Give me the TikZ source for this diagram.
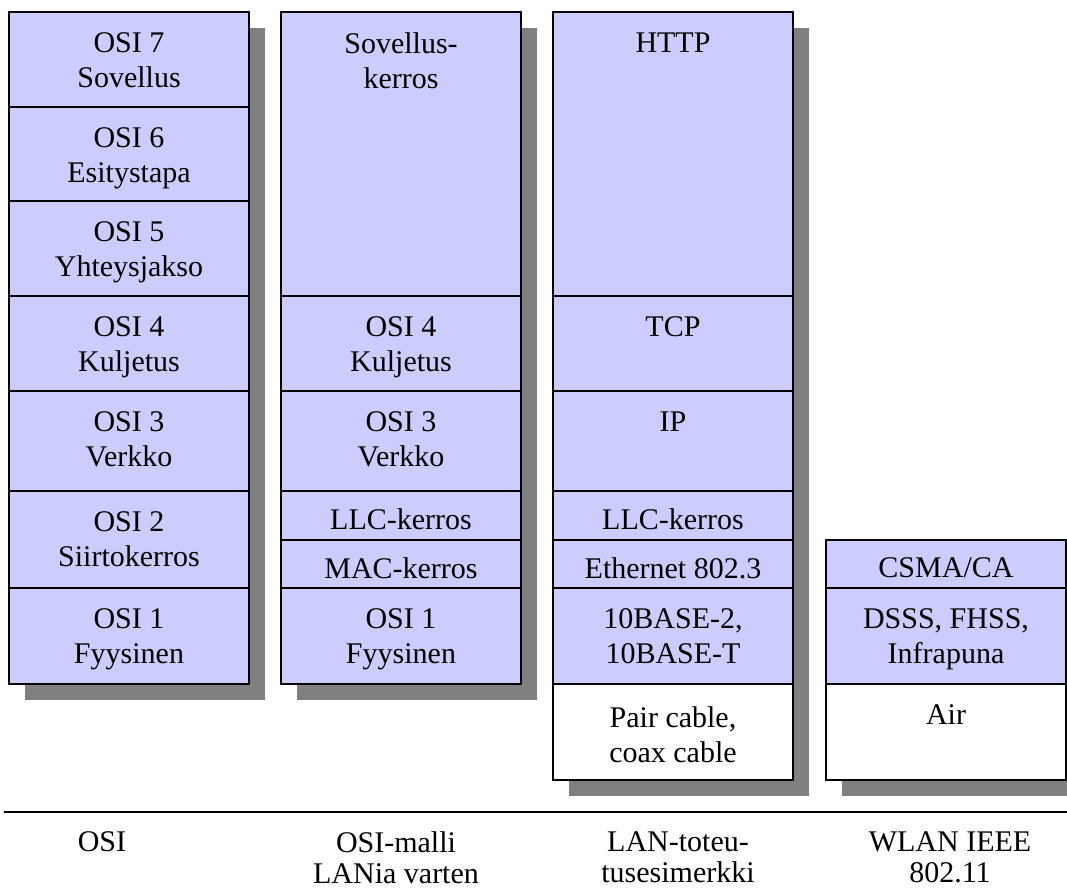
\documentclass[tikz,border=0pt]{standalone}
\usepackage{fontspec}
\setmainfont{Liberation Serif}
\usetikzlibrary{positioning,backgrounds}

\definecolor{layerblue}{HTML}{CCCCFF}
\definecolor{shadowgray}{HTML}{808080}

\tikzset{
  layer/.style={draw=black, line width=1.3pt, fill=layerblue, anchor=north west,
    inner sep=0pt, outer sep=0pt, minimum width=180pt},
  medium/.style={layer, fill=white},
  layertext/.style={anchor=north, inner sep=0pt, align=center,
    font=\fontsize{22.5}{26.25}\selectfont},
  caption/.style={anchor=north, inner sep=0pt, align=center,
    font=\fontsize{22.5}{23.25}\selectfont},
  dropshadow/.style={fill=shadowgray},
  rule/.style={line width=1.5pt}
}

\begin{document}
\begin{tikzpicture}[x=0.75pt, y=-0.75pt]
    \useasboundingbox (0,0) rectangle (1067,889);

    % OSI model
    \foreach \nm/\ya/\yb/\dy/\kind/\txt in {osi7/12/107/20.7/layer/{OSI 7\\Sovellus},
        osi6/107/201/20.7/layer/{OSI 6\\Esitystapa}, osi5/201/296/20.7/layer/{OSI 5\\Yhteysjakso},
        osi4/296/391/20.7/layer/{OSI 4\\Kuljetus}, osi3/391/491/20.7/layer/{OSI 3\\Verkko},
        osi2/491/588/20.7/layer/{OSI 2\\Siirtokerros}, osi1/588/684/20.7/layer/{OSI 1\\Fyysinen}}{
        \node (\nm) [\kind, minimum height={(\yb-\ya)*0.75pt}] at (9,\ya) {};
        \node (\nm-txt) [layertext] at ([shift={(0,\dy)}]\nm.north) {\txt};
    }

    % OSI model for LAN
    \foreach \nm/\ya/\yb/\dy/\kind/\txt in {lanapp/12/296/20.7/layer/{Sovellus-\\kerros},
        lan4/296/391/20.7/layer/{OSI 4\\Kuljetus}, lan3/391/491/20.7/layer/{OSI 3\\Verkko},
        llc/491/540/17.7/layer/{LLC-kerros}, mac/540/588/17.7/layer/{MAC-kerros},
        lan1/588/684/20.7/layer/{OSI 1\\Fyysinen}}{
        \node (\nm) [\kind, minimum height={(\yb-\ya)*0.75pt}] at (281,\ya) {};
        \node (\nm-txt) [layertext] at ([shift={(0,\dy)}]\nm.north) {\txt};
    }

    % LAN example
    \foreach \nm/\ya/\yb/\dy/\kind/\txt in {http/12/296/20.7/layer/{HTTP},
        tcp/296/391/20.7/layer/{TCP}, ip/391/491/20.7/layer/{IP},
        ellc/491/540/17.7/layer/{LLC-kerros}, eth/540/588/17.7/layer/{Ethernet 802.3},
        base/588/684/20.7/layer/{10BASE-2,\\10BASE-T},
        cable/684/780/22.7/medium/{Pair cable,\\coax cable}}{
        \node (\nm) [\kind, minimum height={(\yb-\ya)*0.75pt}] at (553,\ya) {};
        \node (\nm-txt) [layertext] at ([shift={(0,\dy)}]\nm.north) {\txt};
    }

    % WLAN
    \foreach \nm/\ya/\yb/\dy/\kind/\txt in {csma/540/588/17.7/layer/{CSMA/CA},
        dsss/588/684/20.7/layer/{DSSS, FHSS,\\Infrapuna}, air/684/780/20.7/medium/{Air}}{
        \node (\nm) [\kind, minimum height={(\yb-\ya)*0.75pt}] at (826,\ya) {};
        \node (\nm-txt) [layertext] at ([shift={(0,\dy)}]\nm.north) {\txt};
    }

    % shadows
    \begin{scope}[on background layer]
        \fill[dropshadow] ([shift={(16,16)}]osi7.north west) rectangle ([shift={(16,16)}]osi1.south east);
        \fill[dropshadow] ([shift={(16,16)}]lanapp.north west) rectangle ([shift={(16,16)}]lan1.south east);
        \fill[dropshadow] ([shift={(16,16)}]http.north west) rectangle ([shift={(16,16)}]cable.south east);
        \fill[dropshadow] ([shift={(16,16)}]csma.north west) rectangle ([shift={(16,16)}]air.south east);
    \end{scope}

    \coordinate (rule-l) at (4,812);
    \coordinate (rule-r) at (1067,812);
    \draw[rule] (rule-l) -- (rule-r);

    \node (cap-osi) [caption] at (102,831) {OSI};
    \node (cap-lan) [caption] at (396,831) {OSI-malli\\LANia varten};
    \node (cap-ex) [caption] at (678,831) {LAN-toteu-\\tusesimerkki};
    \node (cap-wlan) [caption] at (950,831) {WLAN IEEE\\802.11};
\end{tikzpicture}
\end{document}
